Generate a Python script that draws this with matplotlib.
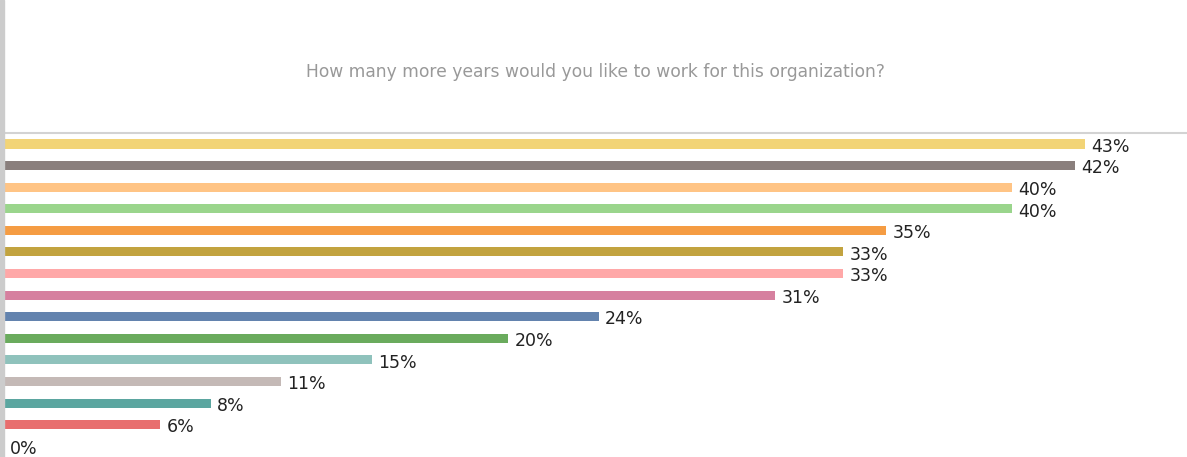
import matplotlib.pyplot as plt
from matplotlib.patches import Rectangle

# values (percent), top to bottom
values = [42.9, 42.5, 40.0, 40.0, 35.0, 33.3, 33.3, 30.6, 23.6, 20.0, 14.6, 11.0, 8.2, 6.2, 0.0]
labels = ['43%', '42%', '40%', '40%', '35%', '33%', '33%', '31%', '24%', '20%',
          '15%', '11%', '8%', '6%', '0%']
colors = ['#F2D477', '#8A7F7D', '#FFC485', '#9AD58C', '#F59C43', '#C2A33F',
          '#FFA8A8', '#D6809F', '#6383AE', '#6AAB5D', '#8FC2BC', '#C4B9B6',
          '#5BA6A0', '#E86E6E', '#CCCCCC']
title = 'How many more years would you like to work for this organization?'

W, H = 1187, 457
fig = plt.figure(figsize=(W / 100, H / 100), dpi=100)

# axes in pixel terms: left edge at x=4, top at y=133
ax = fig.add_axes([4 / W, 0, (W - 4) / W, (H - 133) / H])

pos = list(range(len(values)))
ax.barh(pos, values, height=0.42, color=colors, edgecolor='none')

ax.set_xlim(0, (W - 4) / 25.2)
ax.set_ylim(14.5, -0.51)

for p, v, lab in zip(pos, values, labels):
    ax.annotate(lab, (v, p), xytext=(4.5, -2), textcoords='offset points',
                ha='left', va='center', fontsize=12.5, color='#222222')

for s in ['left', 'right', 'bottom']:
    ax.spines[s].set_visible(False)
ax.spines['top'].set_color('#D3D3D3')
ax.spines['top'].set_linewidth(1.5)
ax.set_xticks([])
ax.set_yticks([])

# gray strip at the left edge
fig.patches.append(Rectangle((0, 0), 3.5 / W, 1, transform=fig.transFigure,
                             color='#CCCCCC', zorder=0))

fig.text(0.5 * (W + 4) / W, 1 - 72 / H, title, ha='center', va='center',
         fontsize=12.3, color='#999999')

fig.savefig('out.png', dpi=100)
